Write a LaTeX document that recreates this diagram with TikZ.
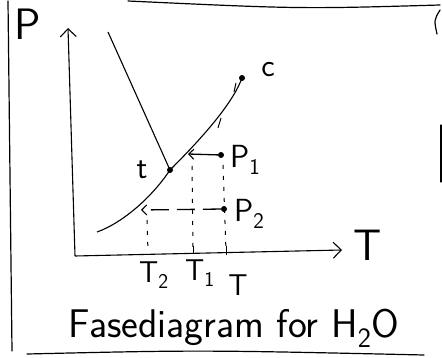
\documentclass[tikz,border=0pt]{standalone}
\usepackage{tikz}
\usetikzlibrary{arrows.meta, positioning, calc}

\begin{document}
\begin{tikzpicture}[x=1pt, y=-1pt,
    every node/.style={font=\sffamily, inner sep=0pt},
    axis/.style={line width=1.1pt, -{Straight Barb[length=8pt, width=16pt, line width=1.1pt]}},
    curve/.style={line width=1.1pt},
    frame/.style={line width=1.2pt, line cap=round},
    dot/.style={circle, fill=black, minimum size=6pt, inner sep=0pt},
    guide/.style={line width=1pt, dash pattern=on 4pt off 7pt},
    push/.style={line width=1.3pt, -{Straight Barb[length=5pt, width=10pt, line width=1.1pt]}},
    big/.style={font=\sffamily\fontsize{44}{48}\selectfont},
    mid/.style={font=\sffamily\fontsize{32}{36}\selectfont},
    small/.style={font=\sffamily\fontsize{30}{33}\selectfont},
    tick/.style={line width=1pt}
]
\useasboundingbox (0,0) rectangle (442,358);

% === Frame ===
\draw[frame] (8,1) -- (12,351);
\draw[frame] (27,354) .. controls (200,350) .. (424,355);
\draw[frame] (128,1) .. controls (300,9) .. (440,5);
\draw[frame] (440,10) .. controls (434,20) .. (437,34);
\draw[frame] (441,125) -- (441,182);

% === Axes ===
\coordinate (O) at (75,256);
\coordinate (ptop) at (68,28);
\coordinate (tend) at (342,250);
\draw[axis] (O) -- (ptop);
\draw[axis] (O) -- (tend);
\node[big] (plbl) at (28,24) {P};
\node[big] (tlbl) at (368,245) {T};

% === Phase lines ===
\node[dot] (t) at (170,170) {};
\node[dot] (c) at (242,78) {};
\coordinate (melt) at (108,32);
\coordinate (vlow) at (97,232);
\coordinate (on2) at (141,210);
\coordinate (on1) at (188,154);
\draw[curve] (melt) -- (t.center);
\draw[curve] (vlow) .. controls (120,224) and (150,200) .. (t.center)
    .. controls (200,140) and (232,105) .. (c.center);
\draw[tick] (218,128) -- (221,118);
\draw[tick] (234,92) -- (236,83);
\node[mid] (tlab) at (142,170) {t};
\node[mid] (clab) at (268,70) {c};

% === States P1 and P2 ===
\node[dot] (p1) at (221,155) {};
\node[dot] (p2) at (224,209) {};
\node[mid, anchor=west] (p1lab) at (230,160) {P\textsubscript{1}};
\node[mid, anchor=west] (p2lab) at (234,214) {P\textsubscript{2}};
\draw[push] (p1) -- (on1);
\draw[push, dash pattern=on 18pt off 8pt] (p2) -- (on2);

% === Guides down to T axis ===
\coordinate (t2ax) at (148,252);
\coordinate (t1ax) at (193,251);
\coordinate (tax) at (226,251);
\draw[guide] (on2) ++(6,10) -- (t2ax);
\draw[guide] (on1) ++(4,12) -- (t1ax);
\draw[guide] (p1) ++(2,10) -- (tax);
\draw[tick] (193,246) -- (193,254);
\draw[tick] (226,246) -- (226,255);
\node[small] (t2lab) at (154,275) {T\textsubscript{2}};
\node[small] (t1lab) at (200,273) {T\textsubscript{1}};
\node[small] (tlab2) at (238,285) {T};

% === Title ===
\node[font=\sffamily\fontsize{40}{44}\selectfont] (title) at (234,328) {Fasediagram for H\textsubscript{2}O};
\end{tikzpicture}
\end{document}
